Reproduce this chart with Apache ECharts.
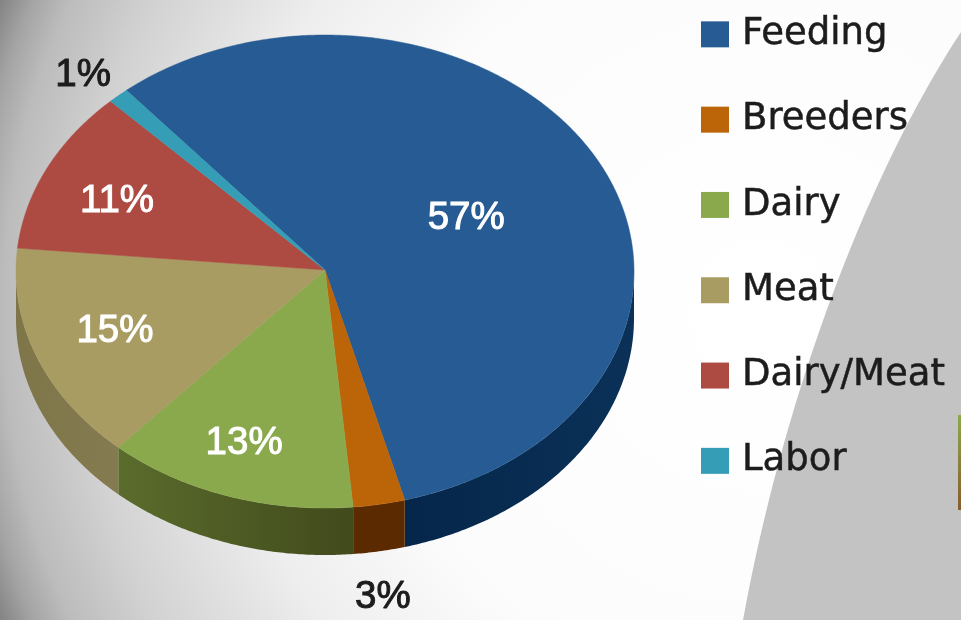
<!DOCTYPE html>
<html>
<head>
<meta charset="utf-8">
<style>html,body{margin:0;padding:0;background:#fff}#c{width:961px;height:620px}</style>
<script src="https://cdn.jsdelivr.net/npm/echarts@6/dist/echarts.min.js"></script>
</head>
<body>
<div id="c"></div>
<script>
const categories = ['Feeding', 'Breeders', 'Dairy', 'Meat', 'Dairy/Meat', 'Labor'];
const shares = [56.9, 2.7, 13.1, 14.9, 11.2, 1.1];
const topColors = ['#265b93', '#bb6408', '#8aa94c', '#a89c62', '#ad4a42', '#359db5'];
const wallColors = [['#0b3158', '#05264a'], ['#5c2a00', '#5c2a00'], ['#414a1c', '#5a6c2c'], ['#857b50', '#7e7549'], ['#6b2c26', '#6b2c26'], ['#1d5f6e', '#1d5f6e']];
const labelColors = ['#fff', '#1c1c1c', '#fff', '#fff', '#fff', '#1c1c1c'];

const PIE = {cx: 325, cy: 271.5, rx: 309, ry: 236.5, depth: 47, start: -40};
const labelReach = [[0.515, 0.505], [1.07, 1.39], [0.83, 0.759], [0.729, 0.68], [0.748, 0.70], [1.17, 1.125]];

function pt(deg, dy) {
  const a = deg * Math.PI / 180;
  return [PIE.cx + PIE.rx * Math.sin(a), PIE.cy - PIE.ry * Math.cos(a) + (dy || 0)];
}
function arc(a0, a1, dy) {
  const out = [];
  const n = Math.max(2, Math.ceil(Math.abs(a1 - a0) * 2));
  for (let i = 0; i <= n; i++) out.push(pt(a0 + (a1 - a0) * i / n, dy));
  return out;
}
const total = shares.reduce((s, v) => s + v, 0);

function renderer(idx) {
  return function (params, api) {
    const value = api.value(0);
    const before = shares.slice(0, idx).reduce((s, v) => s + v, 0);
    const a0 = PIE.start + before / total * 360;
    const a1 = a0 + value / total * 360;
    const children = [];
    const w0 = Math.max(a0, 90), w1 = Math.min(a1, 270);
    if (w1 > w0) {
      const p0 = pt(w0), p1 = pt(w1);
      children.push({
        type: 'polygon',
        shape: {points: arc(w0, w1, 0).concat(arc(w1, w0, PIE.depth))},
        style: {
          fill: new echarts.graphic.LinearGradient(p0[0], 0, p1[0], 0, [
            {offset: 0, color: wallColors[idx][0]},
            {offset: 1, color: wallColors[idx][1]}
          ], true)
        }
      });
    }
    children.push({
      type: 'polygon',
      shape: {points: [[PIE.cx, PIE.cy - 1.5]].concat(arc(a0, a1, 0))},
      style: {fill: topColors[idx], stroke: topColors[idx], lineWidth: 0.5}
    });
    const mid = (a0 + a1) / 2 * Math.PI / 180;
    children.push({
      type: 'text',
      style: {
        x: PIE.cx + PIE.rx * labelReach[idx][0] * Math.sin(mid),
        y: PIE.cy - PIE.ry * labelReach[idx][1] * Math.cos(mid) + 2,
        text: Math.round(value) + '%',
        align: 'center',
        verticalAlign: 'middle',
        fontFamily: '"Liberation Sans", Arial, sans-serif',
        fontSize: 38.5,
        fill: labelColors[idx],
        stroke: labelColors[idx],
        lineWidth: 1
      }
    });
    return {type: 'group', children};
  };
}

function backdropCurve() {
  const p = [[961, 32], [870, 170], [785, 390], [743, 620]];
  const out = [];
  for (let i = 0; i <= 60; i++) {
    const t = i / 60, u = 1 - t;
    out.push([
      u*u*u*p[0][0] + 3*u*u*t*p[1][0] + 3*u*t*t*p[2][0] + t*t*t*p[3][0],
      u*u*u*p[0][1] + 3*u*u*t*p[1][1] + 3*u*t*t*p[2][1] + t*t*t*p[3][1]
    ]);
  }
  out.push([961, 620]);
  return out;
}

const chart = echarts.init(document.getElementById('c'), null, {renderer: 'canvas'});
chart.setOption({
  animation: false,
  legend: {
    orient: 'vertical',
    left: 701,
    top: 15.6,
    padding: 0,
    itemWidth: 28,
    itemHeight: 26,
    itemGap: 47.8,
    icon: 'rect',
    selectedMode: false,
    data: categories,
    textStyle: {
      fontFamily: '"DejaVu Sans", Verdana, sans-serif',
      fontSize: 37,
      color: '#1c1c1c',
      textBorderColor: '#1c1c1c',
      textBorderWidth: 0.5,
      padding: [0, 0, 11, 8]
    }
  },
  graphic: [
    {
      type: 'rect', z: -10, silent: true,
      shape: {x: 0, y: 0, width: 961, height: 620},
      style: {
        fill: new echarts.graphic.RadialGradient(760, 310, 850, [
          {offset: 0, color: '#ffffff'},
          {offset: 0.45, color: '#fcfcfc'},
          {offset: 0.63, color: '#eeeeee'},
          {offset: 0.8, color: '#d2d2d2'},
          {offset: 0.89, color: '#bcbcbc'},
          {offset: 0.93, color: '#a4a4a4'},
          {offset: 0.97, color: '#7f7f7f'},
          {offset: 1, color: '#6c6c6c'}
        ], true)
      }
    },
    {
      type: 'polygon', z: -9, silent: true,
      shape: {points: backdropCurve()},
      style: {fill: '#c3c3c3'}
    },
    {
      type: 'rect', z: -8, silent: true,
      shape: {x: 958, y: 415, width: 3, height: 95},
      style: {
        fill: new echarts.graphic.LinearGradient(0, 0, 0, 1, [
          {offset: 0, color: '#8aa94c'},
          {offset: 1, color: '#8a5a30'}
        ])
      }
    }
  ],
  series: categories.map((name, i) => ({
    type: 'custom',
    name,
    coordinateSystem: 'none',
    silent: true,
    itemStyle: {color: topColors[i]},
    renderItem: renderer(i),
    data: [[shares[i]]]
  }))
});
</script>
</body>
</html>
